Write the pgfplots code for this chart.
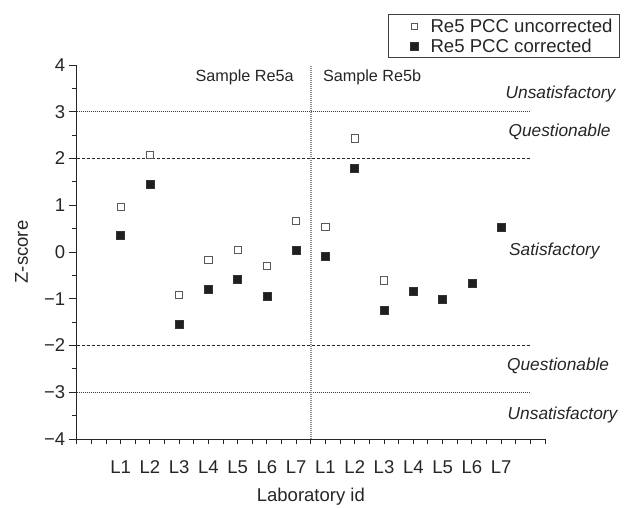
\documentclass[border=0pt]{standalone}
\usepackage{fontspec}
\setmainfont{Liberation Sans}
\usepackage{pgfplots}
\pgfplotsset{compat=1.18}
\pgfplotsset{
    sqlegend/.style={legend image code/.code={\path[draw=none] (0pt,0pt) -- (35pt,0pt);
        \draw[mark repeat=1, mark phase=1, ##1, mark size=#1] plot coordinates {(20pt,0pt)};}},
}
\begin{document}
\begin{tikzpicture}
\useasboundingbox (-76.7pt,-69pt) rectangle (554.3pt,439pt);
\begin{axis}[
    scale only axis,
    width=468.3pt, height=374pt,
    xmin=-0.5, xmax=15.5,
    ymin=-4, ymax=4,
    axis lines=left,
    axis line style={-, line width=1pt, black!85},
    clip=false,
    tick align=outside,
    major tick length=8pt,
    minor tick length=5pt,
    tick style={line width=0.9pt, black!85},
    xtick={1,...,14},
    xticklabels={L1,L2,L3,L4,L5,L6,L7,L1,L2,L3,L4,L5,L6,L7},
    minor xtick={-0.5,0,...,15.5},
    major x tick style={draw=none},
    ytick={-4,...,4},
    yticklabels={−4,−3,−2,−1,0,1,2,3,4},
    minor ytick={-3.5,-2.5,...,3.5},
    tick label style={font=\fontsize{18.5}{21}\selectfont, text=black!85},
    xticklabel style={anchor=base, yshift=-26pt},
    xlabel={Laboratory id},
    ylabel={Z-score},
    label style={font=\fontsize{18.5}{21}\selectfont, text=black!85},
    xlabel style={at={(axis description cs:0.5,-0.168)}, anchor=base},
    ylabel style={at={(axis description cs:-0.104,0.5)}, anchor=base},
    legend style={at={(1.160,1.136)}, anchor=north east,
        draw=black!75, line width=0.9pt,
        inner xsep=6pt, inner ysep=3pt, row sep=3pt,
        font=\fontsize{18.6}{21}\selectfont,
        cells={anchor=west}, nodes={inner sep=1pt, text=black!85}},
]
% reference lines
\addplot[forget plot, black!75, line width=0.8pt, dash pattern=on 0.8pt off 1.2pt] coordinates {(-0.5,3) (15,3)};
\addplot[forget plot, black!85, line width=0.8pt, dash pattern=on 3pt off 2pt] coordinates {(-0.5,2) (15,2)};
\addplot[forget plot, black!85, line width=0.8pt, dash pattern=on 3pt off 2pt] coordinates {(-0.5,-2) (15,-2)};
\addplot[forget plot, black!75, line width=0.8pt, dash pattern=on 0.8pt off 1.2pt] coordinates {(-0.5,-3) (15,-3)};
\addplot[forget plot, black!45, line width=1.4pt, dash pattern=on 1pt off 1pt] coordinates {(7.5,-4) (7.5,4)};

\addplot[only marks, mark=square*, mark size=3.6pt,
    mark options={fill=white, draw=black!65, line width=0.9pt},
    sqlegend=3pt]
coordinates {
(1,0.97) (2,2.08) (3,-0.92) (4,-0.17) (5,0.05) (6,-0.30) (7,0.67)
(8,0.54) (9,2.43) (10,-0.61)
};
\addlegendentry{Re5 PCC uncorrected}

\addplot[only marks, mark=square*, mark size=4pt,
    mark options={fill=black!88, draw=black!80, line width=0.6pt},
    sqlegend=3.8pt]
coordinates {
(1,0.35) (2,1.44) (3,-1.55) (4,-0.80) (5,-0.59) (6,-0.94) (7,0.03)
(8,-0.09) (9,1.79) (10,-1.25) (11,-0.85) (12,-1.02) (13,-0.67) (14,0.52)
};
\addlegendentry{Re5 PCC corrected}

\node[anchor=east, inner sep=0pt, font=\fontsize{16.2}{19}\selectfont, text=black!85] at (axis cs:6.92,3.73) {Sample Re5a};
\node[anchor=west, inner sep=0pt, font=\fontsize{16.2}{19}\selectfont, text=black!85] at (axis cs:7.91,3.73) {Sample Re5b};

\node[anchor=west, inner sep=0pt, font=\fontsize{17.3}{20}\selectfont\itshape, text=black!85] at (axis cs:14.15,3.37) {Unsatisfactory};
\node[anchor=west, inner sep=0pt, font=\fontsize{17.3}{20}\selectfont\itshape, text=black!85] at (axis cs:14.25,2.58) {Questionable};
\node[anchor=west, inner sep=0pt, font=\fontsize{17.3}{20}\selectfont\itshape, text=black!85] at (axis cs:14.27,0.02) {Satisfactory};
\node[anchor=west, inner sep=0pt, font=\fontsize{17.3}{20}\selectfont\itshape, text=black!85] at (axis cs:14.2,-2.44) {Questionable};
\node[anchor=west, inner sep=0pt, font=\fontsize{17.3}{20}\selectfont\itshape, text=black!85] at (axis cs:14.22,-3.48) {Unsatisfactory};
\end{axis}
\end{tikzpicture}
\end{document}
